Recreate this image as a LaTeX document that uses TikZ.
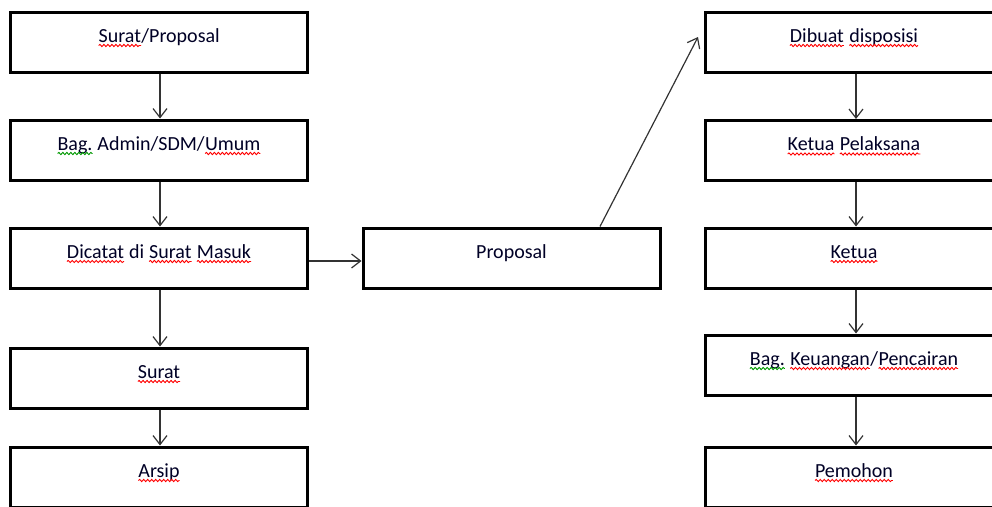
\documentclass[tikz,border=0pt]{standalone}
\usepackage{fontspec}
\setmainfont{Carlito}
\usetikzlibrary{arrows.meta,calc,decorations.pathmorphing}
\tikzset{
  wavetext/.style={draw=none, fill=none, inner sep=0pt, outer sep=0pt,
    minimum width=0pt, minimum height=0pt, text height=, text depth=},
  wave/.style={draw=#1, line width=0.9pt, decorate,
    decoration={snake, amplitude=1.1pt, segment length=4pt}},
  box/.style={draw=black, line width=3pt, fill=white, minimum width=297pt,
    inner xsep=0pt, inner ysep=0pt, text height=30pt, text depth=30pt,
    font=\fontsize{20pt}{24pt}\selectfont, text=black!85!blue},
  conn/.style={draw=black!80, line width=1.2pt, -{Straight Barb[length=9pt,width=14pt,line width=1.2pt]}}
}
\newcommand\wv[2]{\tikz[baseline=(w.base)]{\node[wavetext] (w) {#2};
  \draw[wave=#1] ([yshift=-3.5pt]w.base west) -- ([yshift=-3.5pt]w.base east);}}
\newcommand\rw[1]{\wv{red}{#1}}
\newcommand\gw[1]{\wv{green!60!black}{#1}}
\begin{document}
\begin{tikzpicture}[x=1pt,y=-1pt]
\useasboundingbox (0,0) rectangle (992,506);
\clip (0,0) rectangle (992,506);
% left column
\node[box] (l1) at (159,42) {\rw{Surat}/Proposal};
\node[box] (l2) at (159,150) {\gw{Bag.} Admin/SDM/\rw{Umum}};
\node[box] (l3) at (159,258) {\rw{Dicatat} di \rw{Surat} \rw{Masuk}};
\node[box] (l4) at (159,378) {\rw{Surat}};
\node[box] (l5) at (159,477) {\rw{Arsip}};
% middle
\node[box] (p) at (511.5,258) {Proposal};
% right column
\node[box] (r1) at (854,42) {\rw{Dibuat} \rw{disposisi}};
\node[box] (r2) at (854,150.5) {\rw{Ketua} \rw{Pelaksana}};
\node[box] (r3) at (854,258) {\rw{Ketua}};
\node[box] (r4) at (854,365) {\gw{Bag.} \rw{Keuangan}/\rw{Pencairan}};
\node[box] (r5) at (854,477) {\rw{Pemohon}};
\coordinate (tipd) at ([xshift=-6pt,yshift=5pt]r1.west);
% connectors
\draw[conn] ([xshift=1pt]l1.south) -- ([xshift=1pt]l2.north);
\draw[conn] ([xshift=1pt]l2.south) -- ([xshift=1pt]l3.north);
\draw[conn] ([xshift=1pt]l3.south) -- ([xshift=1pt]l4.north);
\draw[conn] ([xshift=1pt]l4.south) -- ([xshift=1pt]l5.north);
\draw[conn] ([yshift=-3pt]l3.east) -- ([yshift=-3pt]p.west);
\draw[conn] ($(p.north west)!0.795!(p.north east)$) -- (tipd);
\draw[conn] ([xshift=2pt]r1.south) -- ([xshift=2pt]r2.north);
\draw[conn] ([xshift=2pt]r2.south) -- ([xshift=2pt]r3.north);
\draw[conn] ([xshift=2pt]r3.south) -- ([xshift=2pt]r4.north);
\draw[conn] ([xshift=2pt]r4.south) -- ([xshift=2pt]r5.north);
\end{tikzpicture}
\end{document}
